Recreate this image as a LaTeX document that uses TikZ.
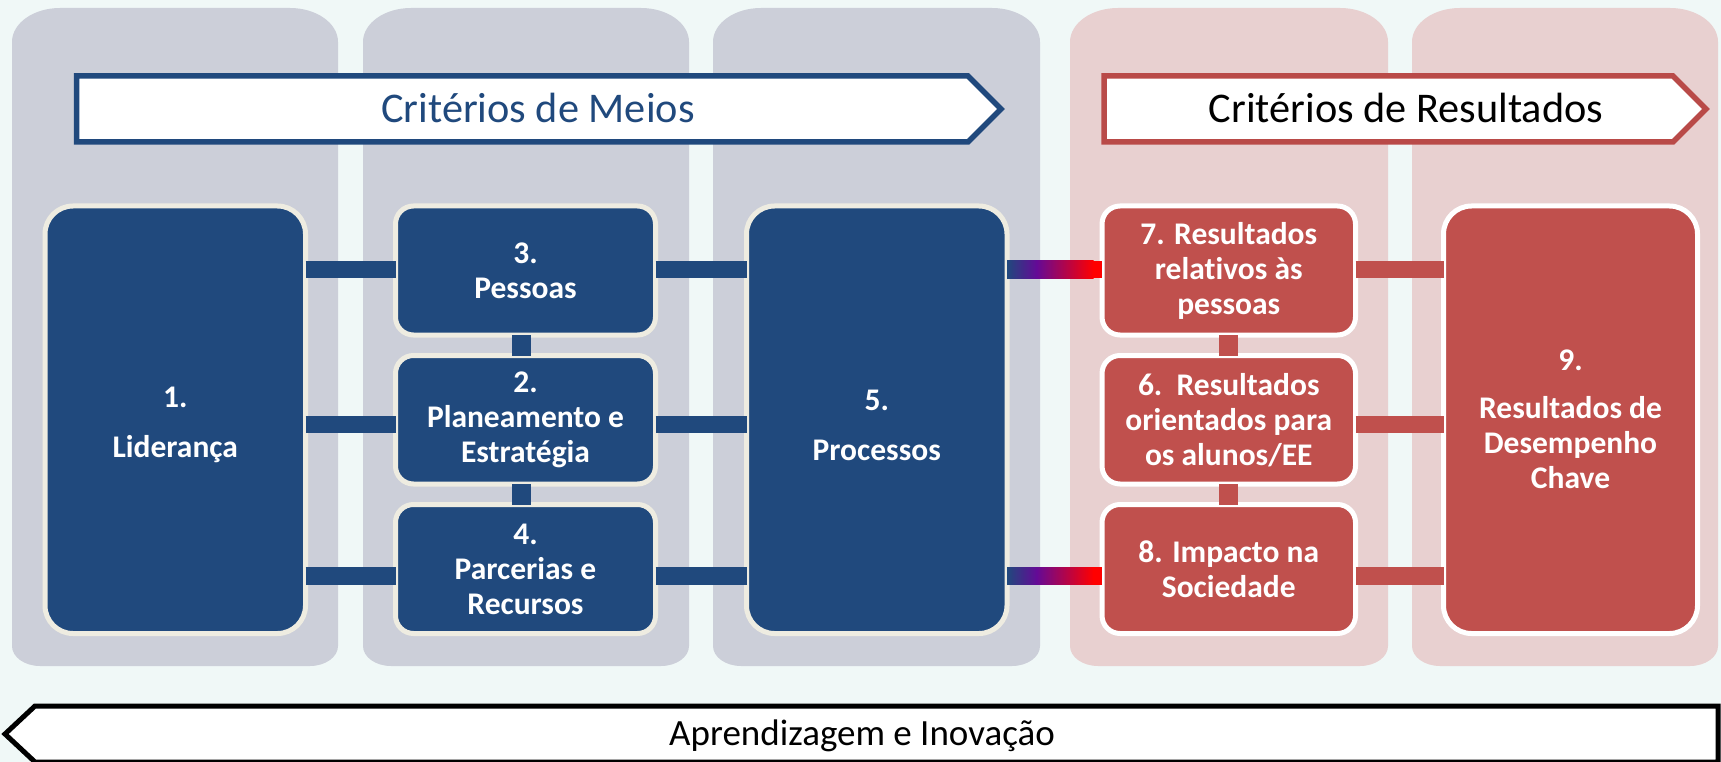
\documentclass[tikz,border=0pt]{standalone}
\usepackage{fontspec}
\setmainfont{Carlito}[Ligatures=NoCommon]
\usetikzlibrary{calc}
\definecolor{bgc}{RGB}{240,248,247}
\definecolor{colgray}{RGB}{204,207,217}
\definecolor{colpink}{RGB}{232,208,208}
\definecolor{navyc}{RGB}{32,73,125}
\definecolor{redc}{RGB}{192,80,77}
\definecolor{redb}{RGB}{185,74,72}
\definecolor{creamc}{RGB}{238,236,225}
\definecolor{purp}{RGB}{100,10,150}
\definecolor{brightred}{RGB}{255,0,0}
\newcommand\mycolshape[3]{\fill[#3] (#1,42) .. controls (#1,23.2) and (#1+21.5,8) .. (#1+48,8) -- (#2-48,8) .. controls (#2-21.5,8) and (#2,23.2) .. (#2,42) -- (#2,646) .. controls (#2,657) and (#2-12.5,666) .. (#2-28,666) -- (#1+28,666) .. controls (#1+12.5,666) and (#1,657) .. (#1,646) -- cycle;}
\begin{document}
\begin{tikzpicture}[x=1pt,y=-1pt,
  boxtext/.style={text=white, align=center, inner sep=0pt,
    font=\bfseries\fontsize{31.5}{35}\selectfont},
  boxbase/.style={boxtext, line width=5pt},
  bluebox/.style={boxbase, draw=creamc, fill=navyc, rounded corners=#1},
  bluebox/.default=18,
  redbox/.style={boxbase, draw=white, fill=redc, rounded corners=#1},
  redbox/.default=18,
  bluebar/.style={draw=navyc, line width=17.5pt, shorten <=-2.5pt, shorten >=-2.5pt},
  redbar/.style={draw=redc, line width=17.5pt, shorten <=-2.5pt, shorten >=-2.5pt},
  bluevbar/.style={draw=navyc, line width=19pt, shorten <=-2.5pt, shorten >=-2.5pt},
  redvbar/.style={draw=redc, line width=19pt, shorten <=-2.5pt, shorten >=-2.5pt},
  bigarrow/.style={line width=5.5pt, fill=white},
  toplabel/.style={anchor=base, inner sep=0pt, font=\fontsize{42.3}{50}\selectfont}
]
\useasboundingbox (0,0) rectangle (1721,762);
\fill[bgc] (0,0) rectangle (1721,762);
% columns
\mycolshape{12}{338}{colgray}
\mycolshape{363}{689}{colgray}
\mycolshape{713}{1040}{colgray}
\mycolshape{1070}{1388}{colpink}
\mycolshape{1412}{1718}{colpink}
% top arrows
\draw[bigarrow, draw=navyc] (76.5,76) -- (968,76) -- (1001,109) -- (968,142) -- (76.5,142) -- cycle;
\node[toplabel, text=navyc] (meios) at (538,123) {Critérios de Meios};
\draw[bigarrow, draw=redb] (1104,76) -- (1673,76) -- (1706,109) -- (1673,142) -- (1104,142) -- cycle;
\node[toplabel, text=black] (result) at (1406,123) {Critérios de Resultados};
% bottom arrow
\draw[line width=5pt, draw=black, fill=white] (35,706) -- (1718,706) -- (1718,762) -- (35,762) -- (5,734) -- cycle;
\node[anchor=base, inner sep=0pt, font=\fontsize{37}{44}\selectfont] (aprend) at (862,745) {Aprendizagem e Inovação};
% boxes
\node[bluebox=28, minimum width=260.5, minimum height=427.5] (n1) at (175.25,419.75) {};
\node[boxtext] (t1) at ($(n1.center)+(0,5.5)$) {1.\\[15pt]Liderança};
\node[bluebox, minimum width=260, minimum height=129] (n3) at (525.5,270.5) {3.\\Pessoas};
\node[bluebox, minimum width=260, minimum height=128.5] (n2) at (525.5,419.75) {2.\\Planeamento e\\Estratégia};
\node[bluebox, minimum width=260, minimum height=129] (n4) at (525.5,569) {4.\\Parcerias e\\Recursos};
\node[bluebox=28, minimum width=260.5, minimum height=427.5] (n5) at (876.75,419.75) {};
\node[boxtext] (t5) at ($(n5.center)+(0,5.5)$) {5.\\[15pt]Processos};
\node[redbox, minimum width=253.5, minimum height=129] (n7) at (1228.75,270.5) {7. Resultados\\relativos às\\pessoas};
\node[redbox, minimum width=253.5, minimum height=128.5] (n6) at (1228.75,419.75) {6.\ \ Resultados\\orientados para\\os alunos/EE};
\node[redbox, minimum width=253.5, minimum height=129] (n8) at (1228.75,569) {8. Impacto na\\Sociedade};
\node[redbox=28, minimum width=254, minimum height=427.5] (n9) at (1570.5,419.75) {9.\\[13pt]Resultados de\\Desempenho\\Chave};
% connector levels
\coordinate (r1) at (0,269.5);
\coordinate (r2) at (0,424.5);
\coordinate (r3) at (0,576);
\coordinate (vb) at (521.5,0);
\coordinate (vr) at (1228.5,0);
% blue connectors
\draw[bluebar] (n1.east |- r1) -- (n3.west |- r1);
\draw[bluebar] (n3.east |- r1) -- (n5.west |- r1);
\draw[bluebar] (n1.east |- r2) -- (n2.west |- r2);
\draw[bluebar] (n2.east |- r2) -- (n5.west |- r2);
\draw[bluebar] (n1.east |- r3) -- (n4.west |- r3);
\draw[bluebar] (n4.east |- r3) -- (n5.west |- r3);
\draw[bluevbar] (vb |- n3.south) -- (vb |- n2.north);
\draw[bluevbar] (vb |- n2.south) -- (vb |- n4.north);
% red connectors
\draw[redbar] (n7.east |- r1) -- (n9.west |- r1);
\draw[redbar] (n6.east |- r2) -- (n9.west |- r2);
\draw[redbar] (n8.east |- r3) -- (n9.west |- r3);
\draw[redvbar] (vr |- n7.south) -- (vr |- n6.north);
\draw[redvbar] (vr |- n6.south) -- (vr |- n8.north);
% gradient connectors 5 -> 7 and 5 -> 8
\foreach \r/\t in {r1/n7, r3/n8}{
  \shade[left color=navyc, right color=purp] ($(n5.east |- \r)+(-2.5,-8.75)$) rectangle ($(n5.east |- \r)!0.3!(\t.west |- \r)+(0.3,8.75)$);
  \shade[left color=purp, right color=brightred] ($(n5.east |- \r)!0.3!(\t.west |- \r)+(0,-8.75)$) rectangle ($(n5.east |- \r)!0.93!(\t.west |- \r)+(0.3,8.75)$);
  \fill[brightred] ($(n5.east |- \r)!0.93!(\t.west |- \r)+(0,-8.75)$) rectangle ($(\t.west |- \r)+(2.5,8.75)$);
}
\end{tikzpicture}
\end{document}
